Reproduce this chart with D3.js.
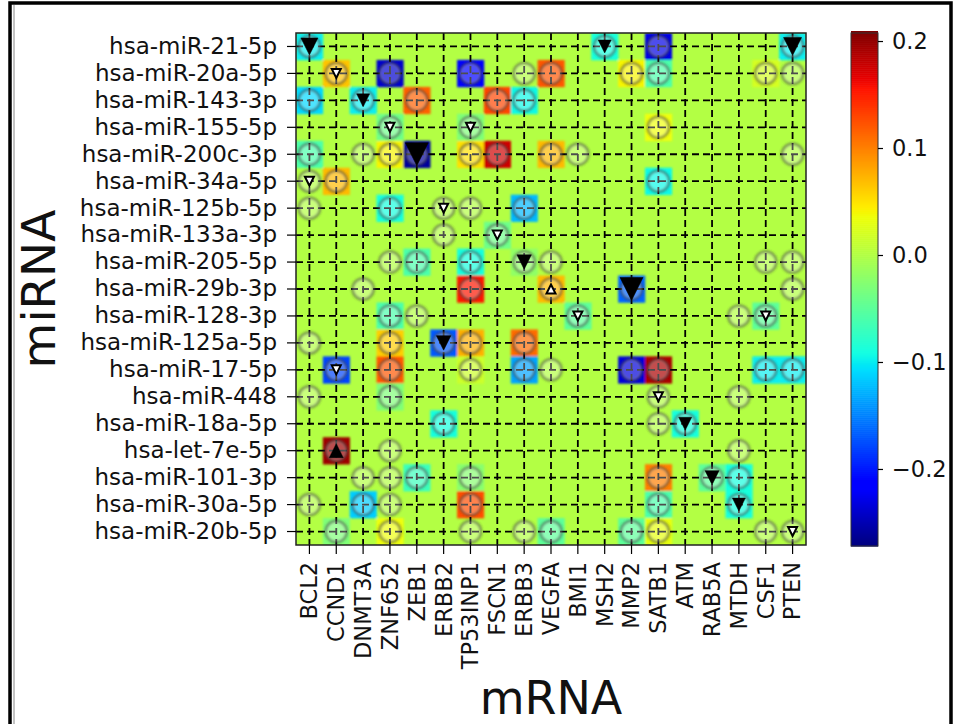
<!DOCTYPE html>
<html>
<head>
<meta charset="utf-8">
<script src="https://cdn.jsdelivr.net/npm/d3@7"></script>
<style>
  body { margin: 0; background: #fff; }
  svg { display: block; font-family: "DejaVu Sans", sans-serif; }
  svg text { font-family: "DejaVu Sans", sans-serif; }
  .axis path { display: none; }
  .axis line { stroke: #000; stroke-width: 1.2; }
  .axis text { fill: #111; font-size: 22.5px; font-family: "DejaVu Sans", sans-serif; }
  .yaxis text { font-size: 23px; }
  .grid line { stroke: #000; stroke-width: 1.8; stroke-dasharray: 7 4; }
</style>
</head>
<body>
<svg id="chart" width="954" height="724"></svg>
<script>
const mirnas = ["hsa-miR-21-5p", "hsa-miR-20a-5p", "hsa-miR-143-3p", "hsa-miR-155-5p",
  "hsa-miR-200c-3p", "hsa-miR-34a-5p", "hsa-miR-125b-5p", "hsa-miR-133a-3p",
  "hsa-miR-205-5p", "hsa-miR-29b-3p", "hsa-miR-128-3p", "hsa-miR-125a-5p",
  "hsa-miR-17-5p", "hsa-miR-448", "hsa-miR-18a-5p", "hsa-let-7e-5p",
  "hsa-miR-101-3p", "hsa-miR-30a-5p", "hsa-miR-20b-5p"];

const mrnas = ["BCL2", "CCND1", "DNMT3A", "ZNF652", "ZEB1", "ERBB2", "TP53INP1", "FSCN1",
  "ERBB3", "VEGFA", "BMI1", "MSH2", "MMP2", "SATB1", "ATM", "RAB5A", "MTDH", "CSF1", "PTEN"];

const colorTicks = [0.2, 0.1, 0.0, -0.1, -0.2];
const colorRange = [-0.272, 0.2075];

// [miRNA, mRNA, score] - every pair gets a circle, score colours the cell
const scores = [
  ["hsa-miR-21-5p", "BCL2", -0.10], ["hsa-miR-21-5p", "MSH2", -0.09],
  ["hsa-miR-21-5p", "SATB1", -0.23], ["hsa-miR-21-5p", "PTEN", -0.10],
  ["hsa-miR-20a-5p", "CCND1", 0.065], ["hsa-miR-20a-5p", "ZNF652", -0.24],
  ["hsa-miR-20a-5p", "TP53INP1", -0.21], ["hsa-miR-20a-5p", "ERBB3", 0],
  ["hsa-miR-20a-5p", "VEGFA", 0.12], ["hsa-miR-20a-5p", "MMP2", 0.04],
  ["hsa-miR-20a-5p", "SATB1", -0.06], ["hsa-miR-20a-5p", "CSF1", 0.02],
  ["hsa-miR-20a-5p", "PTEN", 0],
  ["hsa-miR-143-3p", "BCL2", -0.11], ["hsa-miR-143-3p", "DNMT3A", -0.10],
  ["hsa-miR-143-3p", "ZEB1", 0.115], ["hsa-miR-143-3p", "FSCN1", 0.13],
  ["hsa-miR-143-3p", "ERBB3", -0.095],
  ["hsa-miR-155-5p", "ZNF652", -0.04], ["hsa-miR-155-5p", "TP53INP1", -0.03],
  ["hsa-miR-155-5p", "SATB1", 0.035],
  ["hsa-miR-200c-3p", "BCL2", -0.06], ["hsa-miR-200c-3p", "DNMT3A", 0],
  ["hsa-miR-200c-3p", "ZNF652", 0.04], ["hsa-miR-200c-3p", "ZEB1", -0.26],
  ["hsa-miR-200c-3p", "TP53INP1", 0.05], ["hsa-miR-200c-3p", "FSCN1", 0.175],
  ["hsa-miR-200c-3p", "VEGFA", 0.07], ["hsa-miR-200c-3p", "BMI1", 0],
  ["hsa-miR-200c-3p", "PTEN", 0],
  ["hsa-miR-34a-5p", "BCL2", 0], ["hsa-miR-34a-5p", "CCND1", 0.07],
  ["hsa-miR-34a-5p", "SATB1", -0.095],
  ["hsa-miR-125b-5p", "BCL2", 0], ["hsa-miR-125b-5p", "ZNF652", -0.09],
  ["hsa-miR-125b-5p", "ERBB2", 0], ["hsa-miR-125b-5p", "TP53INP1", 0],
  ["hsa-miR-125b-5p", "ERBB3", -0.125],
  ["hsa-miR-133a-3p", "ERBB2", 0], ["hsa-miR-133a-3p", "FSCN1", -0.04],
  ["hsa-miR-205-5p", "ZNF652", 0], ["hsa-miR-205-5p", "ZEB1", -0.06],
  ["hsa-miR-205-5p", "TP53INP1", -0.09], ["hsa-miR-205-5p", "ERBB3", -0.02],
  ["hsa-miR-205-5p", "VEGFA", 0], ["hsa-miR-205-5p", "CSF1", 0],
  ["hsa-miR-205-5p", "PTEN", 0],
  ["hsa-miR-29b-3p", "DNMT3A", 0], ["hsa-miR-29b-3p", "TP53INP1", 0.155],
  ["hsa-miR-29b-3p", "VEGFA", 0.07], ["hsa-miR-29b-3p", "MMP2", -0.165],
  ["hsa-miR-29b-3p", "PTEN", 0],
  ["hsa-miR-128-3p", "ZNF652", -0.06], ["hsa-miR-128-3p", "ZEB1", 0],
  ["hsa-miR-128-3p", "BMI1", -0.05], ["hsa-miR-128-3p", "MTDH", 0],
  ["hsa-miR-128-3p", "CSF1", -0.05],
  ["hsa-miR-125a-5p", "BCL2", 0], ["hsa-miR-125a-5p", "ZNF652", 0.06],
  ["hsa-miR-125a-5p", "ERBB2", -0.17], ["hsa-miR-125a-5p", "TP53INP1", 0.075],
  ["hsa-miR-125a-5p", "ERBB3", 0.11],
  ["hsa-miR-17-5p", "CCND1", -0.18], ["hsa-miR-17-5p", "ZNF652", 0.12],
  ["hsa-miR-17-5p", "TP53INP1", 0.015], ["hsa-miR-17-5p", "ERBB3", -0.135],
  ["hsa-miR-17-5p", "VEGFA", 0], ["hsa-miR-17-5p", "MMP2", -0.235],
  ["hsa-miR-17-5p", "SATB1", 0.19], ["hsa-miR-17-5p", "CSF1", -0.10],
  ["hsa-miR-17-5p", "PTEN", -0.10],
  ["hsa-miR-448", "BCL2", 0], ["hsa-miR-448", "ZNF652", -0.03],
  ["hsa-miR-448", "SATB1", 0], ["hsa-miR-448", "MTDH", 0],
  ["hsa-miR-18a-5p", "ERBB2", -0.09], ["hsa-miR-18a-5p", "SATB1", 0],
  ["hsa-miR-18a-5p", "ATM", -0.09],
  ["hsa-let-7e-5p", "CCND1", 0.195], ["hsa-let-7e-5p", "ZNF652", 0],
  ["hsa-let-7e-5p", "MTDH", 0],
  ["hsa-miR-101-3p", "DNMT3A", 0], ["hsa-miR-101-3p", "ZNF652", 0],
  ["hsa-miR-101-3p", "ZEB1", -0.07], ["hsa-miR-101-3p", "TP53INP1", -0.025],
  ["hsa-miR-101-3p", "SATB1", 0.10], ["hsa-miR-101-3p", "RAB5A", -0.05],
  ["hsa-miR-101-3p", "MTDH", -0.09],
  ["hsa-miR-30a-5p", "BCL2", 0], ["hsa-miR-30a-5p", "DNMT3A", -0.115],
  ["hsa-miR-30a-5p", "ZNF652", 0], ["hsa-miR-30a-5p", "TP53INP1", 0.125],
  ["hsa-miR-30a-5p", "SATB1", -0.06], ["hsa-miR-30a-5p", "MTDH", -0.09],
  ["hsa-miR-20b-5p", "CCND1", -0.03], ["hsa-miR-20b-5p", "ZNF652", 0.035],
  ["hsa-miR-20b-5p", "TP53INP1", 0], ["hsa-miR-20b-5p", "ERBB3", 0],
  ["hsa-miR-20b-5p", "VEGFA", -0.05], ["hsa-miR-20b-5p", "MMP2", -0.05],
  ["hsa-miR-20b-5p", "SATB1", 0.03], ["hsa-miR-20b-5p", "CSF1", 0],
  ["hsa-miR-20b-5p", "PTEN", 0]
];

// [miRNA, mRNA, triangle type, strength]
const triangles = [
  ["hsa-miR-21-5p", "BCL2", "down", 1.8], ["hsa-miR-21-5p", "MSH2", "down", 1],
  ["hsa-miR-21-5p", "PTEN", "down", 2], ["hsa-miR-20a-5p", "CCND1", "down-open", 1],
  ["hsa-miR-143-3p", "DNMT3A", "down", 1], ["hsa-miR-155-5p", "ZNF652", "down-open", 1],
  ["hsa-miR-155-5p", "TP53INP1", "down-open", 1], ["hsa-miR-200c-3p", "ZEB1", "down", 3],
  ["hsa-miR-34a-5p", "BCL2", "down-open", 1], ["hsa-miR-125b-5p", "ERBB2", "down-open", 1],
  ["hsa-miR-133a-3p", "FSCN1", "down-open", 1], ["hsa-miR-205-5p", "ERBB3", "down", 1.3],
  ["hsa-miR-29b-3p", "VEGFA", "up-open", 1], ["hsa-miR-29b-3p", "MMP2", "down", 3],
  ["hsa-miR-128-3p", "BMI1", "down-open", 1], ["hsa-miR-128-3p", "CSF1", "down-open", 1],
  ["hsa-miR-125a-5p", "ERBB2", "down", 1.3], ["hsa-miR-17-5p", "CCND1", "down-open", 1],
  ["hsa-miR-448", "SATB1", "down-open", 1], ["hsa-miR-18a-5p", "ATM", "down", 1],
  ["hsa-let-7e-5p", "CCND1", "up", 1.2], ["hsa-miR-101-3p", "RAB5A", "down", 1.2],
  ["hsa-miR-30a-5p", "MTDH", "down", 1], ["hsa-miR-20b-5p", "PTEN", "down-open", 1]
];

const svg = d3.select("#chart");

// outer frame of the picture
svg.append("rect").attr("x", 10).attr("y", 3).attr("width", 941).attr("height", 740)
  .attr("fill", "none").attr("stroke", "#000").attr("stroke-width", 3.5);
svg.append("line").attr("x1", 14).attr("x2", 14).attr("y1", 5).attr("y2", 724)
  .attr("stroke", "#888").attr("stroke-width", 1);

const pLeft = 296, pRight = 806, pTop = 33, pBottom = 545;

const x = d3.scaleBand().domain(mrnas).range([pLeft, pRight]);
const y = d3.scaleBand().domain(mirnas).range([pTop, pBottom]);

// matplotlib jet
const jetR = d3.scaleLinear().domain([0, 0.35, 0.66, 0.89, 1]).range([0, 0, 1, 1, 0.5]).clamp(true);
const jetG = d3.scaleLinear().domain([0, 0.125, 0.375, 0.64, 0.91, 1]).range([0, 0, 1, 1, 0, 0]).clamp(true);
const jetB = d3.scaleLinear().domain([0, 0.11, 0.34, 0.65, 1]).range([0.5, 1, 1, 0, 0]).clamp(true);
const norm = d3.scaleLinear().domain(colorRange).range([0, 1]).clamp(true);
function color(v) {
  const t = norm(v);
  return d3.rgb(jetR(t) * 255, jetG(t) * 255, jetB(t) * 255).toString();
}

const defs = svg.append("defs");
defs.append("filter").attr("id", "soft").attr("x", "-5%").attr("y", "-5%")
  .attr("width", "110%").attr("height", "110%")
  .append("feGaussianBlur").attr("stdDeviation", 0.8);
defs.append("clipPath").attr("id", "plotclip").append("rect")
  .attr("x", pLeft).attr("y", pTop).attr("width", pRight - pLeft).attr("height", pBottom - pTop);

const plot = svg.append("g").attr("clip-path", "url(#plotclip)");

plot.append("rect").attr("x", pLeft).attr("y", pTop)
  .attr("width", pRight - pLeft).attr("height", pBottom - pTop)
  .attr("fill", color(0));

plot.append("g").attr("filter", "url(#soft)")
  .selectAll("rect").data(scores.filter(d => d[2] !== 0)).join("rect")
  .attr("x", d => x(d[1])).attr("y", d => y(d[0]))
  .attr("width", x.bandwidth() + 0.3).attr("height", y.bandwidth() + 0.3)
  .attr("fill", d => color(d[2]));

// dashed grid through the cell centres
const cx = d => x(d) + x.bandwidth() / 2;
const cy = d => y(d) + y.bandwidth() / 2;

plot.append("g").attr("class", "grid")
  .selectAll("line").data(mrnas).join("line")
  .attr("x1", cx).attr("x2", cx).attr("y1", pTop).attr("y2", pBottom);
plot.append("g").attr("class", "grid")
  .selectAll("line").data(mirnas).join("line")
  .attr("y1", cy).attr("y2", cy).attr("x1", pLeft).attr("x2", pRight);

// circles
plot.append("g").attr("filter", "url(#soft)")
  .selectAll("circle").data(scores).join("circle")
  .attr("cx", d => cx(d[1])).attr("cy", d => cy(d[0]))
  .attr("r", 10.5)
  .attr("fill", "rgba(255,255,255,0.3)")
  .attr("stroke", "rgba(70,70,70,0.5)")
  .attr("stroke-width", 3);

// triangles
const triSize = d3.scaleLinear().domain([1, 3]).range([13, 23]);
function triPath(s, up) {
  const h = s / 2, k = up ? -1 : 1;
  return `M0,${k * h}L${-h},${-k * h}L${h},${-k * h}Z`;
}
plot.append("g")
  .selectAll("path").data(triangles).join("path")
  .attr("transform", d => `translate(${cx(d[1])},${cy(d[0])})`)
  .attr("d", d => {
    const open = d[2].endsWith("open");
    return triPath(open ? 9 : triSize(d[3]), d[2].startsWith("up"));
  })
  .attr("fill", d => d[2].endsWith("open") ? "#fff" : "#000")
  .attr("stroke", "#000")
  .attr("stroke-width", d => d[2].endsWith("open") ? 2 : 0.5)
  .attr("stroke-linejoin", "miter");

// frame
svg.append("rect").attr("x", pLeft).attr("y", pTop)
  .attr("width", pRight - pLeft).attr("height", pBottom - pTop)
  .attr("fill", "none").attr("stroke", "#222").attr("stroke-width", 1.5);

// axes
svg.append("g").attr("class", "axis yaxis")
  .attr("transform", `translate(${pLeft},0)`)
  .call(d3.axisLeft(y).tickSize(9).tickPadding(10))
  .attr("font-family", null).attr("font-size", null);

const xAxis = svg.append("g").attr("class", "axis")
  .attr("transform", `translate(0,${pBottom})`)
  .call(d3.axisBottom(x).tickSize(9).tickPadding(8))
  .attr("font-family", null).attr("font-size", null);
xAxis.selectAll("text")
  .attr("transform", "rotate(-90)")
  .attr("x", -17).attr("y", 0).attr("dy", "0.35em")
  .attr("text-anchor", "end");

svg.append("text").attr("transform", "translate(55,289) rotate(-90)")
  .attr("text-anchor", "middle").attr("font-size", 47).attr("fill", "#111")
  .text("miRNA");
svg.append("text").attr("x", (pLeft + pRight) / 2).attr("y", 714)
  .attr("text-anchor", "middle").attr("font-size", 46).attr("fill", "#111")
  .text("mRNA");

// colour bar
const cbX = 851, cbW = 27, cbTop = 33, cbBottom = 546;
const cbY = d3.scaleLinear().domain(colorRange).range([cbBottom, cbTop]);
const steps = d3.range(256).map(i => colorRange[0] + (colorRange[1] - colorRange[0]) * i / 255);
const stepH = (cbBottom - cbTop) / 256;
svg.append("g").selectAll("rect").data(steps).join("rect")
  .attr("x", cbX).attr("width", cbW)
  .attr("y", d => cbY(d) - stepH).attr("height", stepH + 0.6)
  .attr("fill", d => color(d));
svg.append("rect").attr("x", cbX).attr("y", cbTop).attr("width", cbW)
  .attr("height", cbBottom - cbTop).attr("fill", "none")
  .attr("stroke", "#333").attr("stroke-width", 1);
svg.append("g").attr("class", "axis")
  .attr("transform", `translate(${cbX + cbW},0)`)
  .call(d3.axisRight(cbY).tickValues(colorTicks).tickFormat(d3.format(".1f"))
    .tickSize(5).tickPadding(9))
  .attr("font-family", null).attr("font-size", null);
</script>
</body>
</html>
